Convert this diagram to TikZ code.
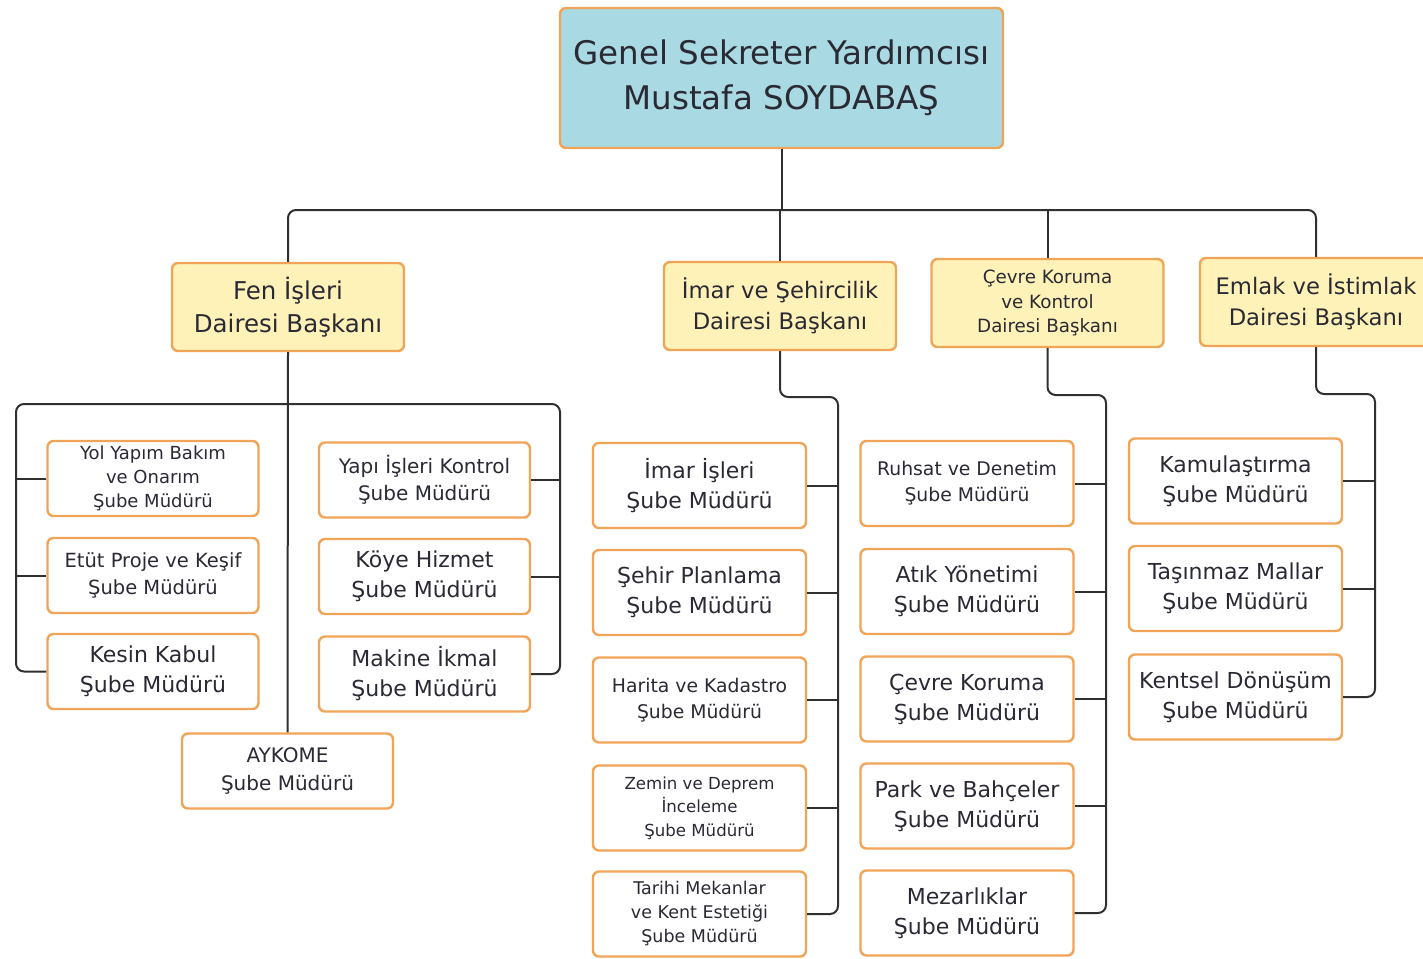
\documentclass[tikz,border=0pt]{standalone}
\usepackage{fontspec}
\setmainfont{DejaVu Sans}
\definecolor{bord}{HTML}{F0A458}
\definecolor{topfill}{HTML}{A9D9E2}
\definecolor{headfill}{HTML}{FFF2B8}
\definecolor{txt}{HTML}{2A2A35}
\definecolor{linec}{HTML}{303030}
\tikzset{
  boxbase/.style={draw=bord, line width=2.4pt, rounded corners=6pt, align=center, text=txt, inner sep=0pt},
  topbox/.style={boxbase, fill=topfill, minimum width=443pt, minimum height=140pt, font=\fontsize{32.5}{45}\selectfont},
  headbox/.style={boxbase, fill=headfill, minimum width=232pt, minimum height=88pt, font=\fontsize{22.7}{31.5}\selectfont},
  subbox/.style={boxbase, fill=white, minimum width=211pt, minimum height=75pt, font=\fontsize{22}{30}\selectfont},
  subboxb/.style={subbox, minimum width=213pt, minimum height=85pt},
  small/.style={font=\fontsize{18}{24}\selectfont},
  smaller/.style={font=\fontsize{16.6}{23.5}\selectfont},
  conn/.style={draw=linec, line width=2pt, rounded corners=8pt},
}
\begin{document}
\begin{tikzpicture}[x=1pt,y=-1pt]
\useasboundingbox (0,0) rectangle (1423,958);
% top
\node[topbox] (top) at (781.5,78) {Genel Sekreter Yardımcısı\\Mustafa SOYDABAŞ};
% heads
\node[headbox, font=\fontsize{24.5}{33}\selectfont] (fen) at (288,307) {Fen İşleri\\Dairesi Başkanı};
\node[headbox] (imar) at (780,306) {İmar ve Şehircilik\\Dairesi Başkanı};
\node[headbox, font=\fontsize{18.3}{24.5}\selectfont] (cevre) at (1047.5,303) {Çevre Koruma\\ve Kontrol\\Dairesi Başkanı};
\node[headbox] (emlak) at (1316,302) {Emlak ve İstimlak\\Dairesi Başkanı};
% Fen subtree
\node[subbox, small] (yol) at (153,478.5) {Yol Yapım Bakım\\ve Onarım\\Şube Müdürü};
\node[subbox, font=\fontsize{19.5}{27}\selectfont] (etut) at (153,575.5) {Etüt Proje ve Keşif\\Şube Müdürü};
\node[subbox] (kesin) at (153,671.5) {Kesin Kabul\\Şube Müdürü};
\node[subbox, font=\fontsize{20}{27}\selectfont] (yapi) at (424.5,480) {Yapı İşleri Kontrol\\Şube Müdürü};
\node[subbox] (koye) at (424.5,576.5) {Köye Hizmet\\Şube Müdürü};
\node[subbox] (makine) at (424.5,674) {Makine İkmal\\Şube Müdürü};
\node[subbox, font=\fontsize{20}{28}\selectfont] (aykome) at (287.5,771) {AYKOME\\Şube Müdürü};
% İmar subtree
\node[subboxb] (imaris) at (699.5,485.5) {İmar İşleri\\Şube Müdürü};
\node[subboxb] (sehir) at (699.5,592.5) {Şehir Planlama\\Şube Müdürü};
\node[subboxb, font=\fontsize{18.8}{26}\selectfont] (harita) at (699.5,700) {Harita ve Kadastro\\Şube Müdürü};
\node[subboxb, smaller] (zemin) at (699.5,808) {Zemin ve Deprem\\İnceleme\\Şube Müdürü};
\node[subboxb, font=\fontsize{17.5}{24}\selectfont] (tarihi) at (699.5,914) {Tarihi Mekanlar\\ve Kent Estetiği\\Şube Müdürü};
% Çevre subtree
\node[subboxb, font=\fontsize{18.8}{26}\selectfont] (ruhsat) at (967,483.5) {Ruhsat ve Denetim\\Şube Müdürü};
\node[subboxb] (atik) at (967,591.5) {Atık Yönetimi\\Şube Müdürü};
\node[subboxb] (cevrek) at (967,699) {Çevre Koruma\\Şube Müdürü};
\node[subboxb] (park) at (967,806) {Park ve Bahçeler\\Şube Müdürü};
\node[subboxb] (mezar) at (967,913) {Mezarlıklar\\Şube Müdürü};
% Emlak subtree
\node[subboxb] (kamu) at (1235.5,481) {Kamulaştırma\\Şube Müdürü};
\node[subboxb] (tasin) at (1235.5,588.5) {Taşınmaz Mallar\\Şube Müdürü};
\node[subboxb] (kent) at (1235.5,697) {Kentsel Dönüşüm\\Şube Müdürü};
% bus coordinates
\coordinate (bus) at (781.5,210);
\coordinate (fl) at (16,404);
\coordinate (fr) at (560,404);
\coordinate (ib) at (838,397);
\coordinate (cb) at (1106,395);
\coordinate (eb) at (1375,394);
% connectors top level
\draw[conn] (top.south) -- (bus);
\draw[conn] (fen.north) |- (bus) -| (emlak.north);
\draw[conn] (imar.north) -- (imar.north |- bus);
\draw[conn] (cevre.north) -- (cevre.north |- bus);
% Fen
\draw[conn] (kesin.west) -| (fl) -- (fr) |- (makine.east);
\draw[conn] (fen.south) -- (aykome.north);
\draw[conn] (yol.west) -- (yol.west -| fl);
\draw[conn] (etut.west) -- (etut.west -| fl);
\draw[conn] (yapi.east) -- (yapi.east -| fr);
\draw[conn] (koye.east) -- (koye.east -| fr);
% İmar
\draw[conn] (imar.south) |- (ib) |- (tarihi.east);
\draw[conn] (imaris.east) -- (imaris.east -| ib);
\draw[conn] (sehir.east) -- (sehir.east -| ib);
\draw[conn] (harita.east) -- (harita.east -| ib);
\draw[conn] (zemin.east) -- (zemin.east -| ib);
% Çevre
\draw[conn] (cevre.south) |- (cb) |- (mezar.east);
\draw[conn] (ruhsat.east) -- (ruhsat.east -| cb);
\draw[conn] (atik.east) -- (atik.east -| cb);
\draw[conn] (cevrek.east) -- (cevrek.east -| cb);
\draw[conn] (park.east) -- (park.east -| cb);
% Emlak
\draw[conn] (emlak.south) |- (eb) |- (kent.east);
\draw[conn] (kamu.east) -- (kamu.east -| eb);
\draw[conn] (tasin.east) -- (tasin.east -| eb);
\end{tikzpicture}
\end{document}
